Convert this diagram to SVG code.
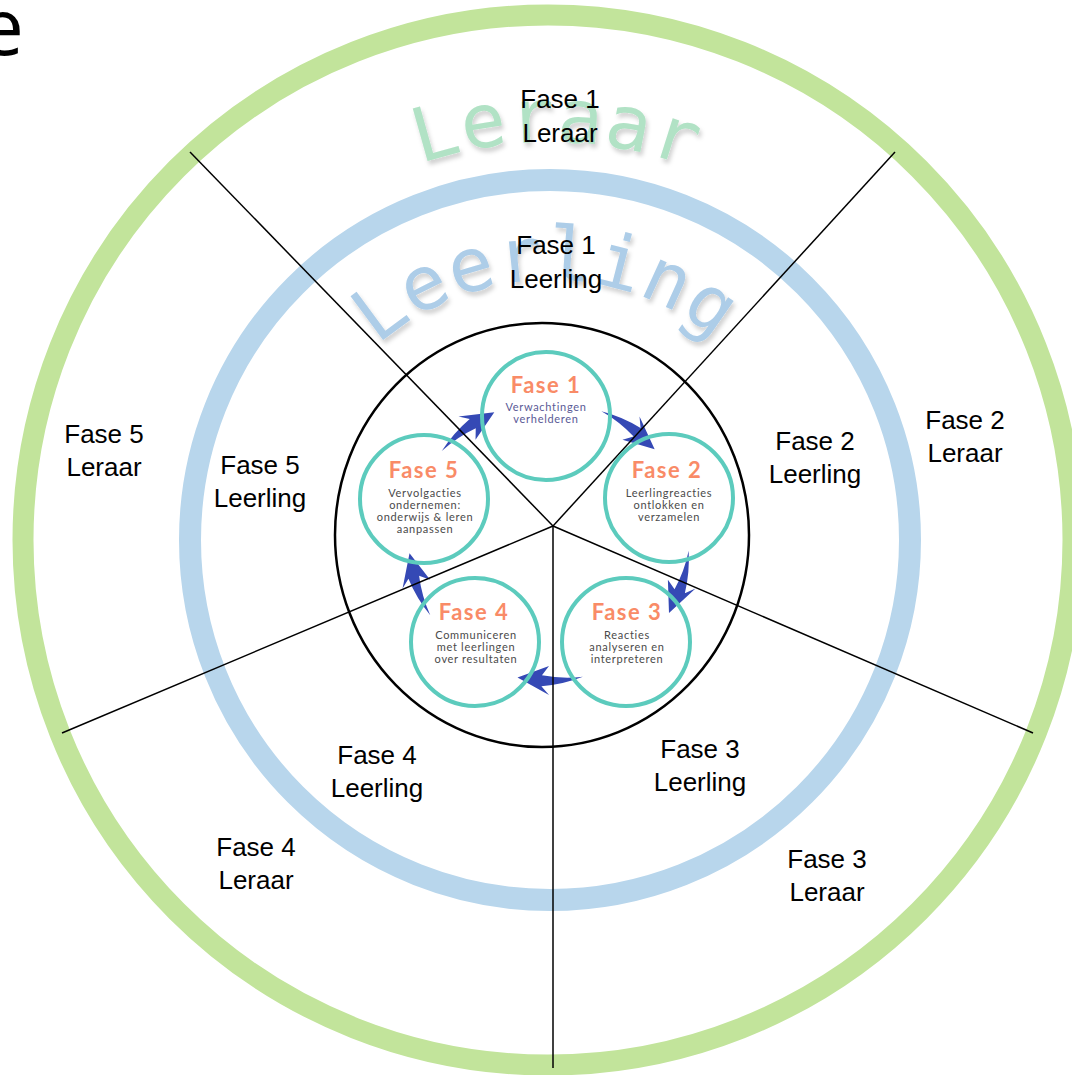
<svg xmlns="http://www.w3.org/2000/svg" width="1072" height="1075" viewBox="0 0 1072 1075">
<style>
.lbl{font-family:"Liberation Sans",Arial,sans-serif;font-size:26px;fill:#000;text-anchor:middle}
.ttl{font-family:Lato,"Open Sans",sans-serif;font-weight:700;font-size:22px;letter-spacing:1.5px;fill:#f98b67;text-anchor:middle}
.sub{font-family:Lato,"Open Sans",sans-serif;font-size:11px;letter-spacing:0.7px;fill:#4a4a4a;text-anchor:middle}
.arc{font-family:"DejaVu Sans Mono",monospace;font-size:75px;letter-spacing:1px}
.ring{fill:none;stroke:#5ccbbd;stroke-width:4}
.arrow{fill:#3549b5}
.div{stroke:#000;stroke-width:1.5;fill:none}
</style>
<defs>
<filter id="sh" x="-10%" y="-10%" width="130%" height="140%">
<feDropShadow dx="2" dy="4" stdDeviation="2" flood-color="#000" flood-opacity="0.18"/>
</filter>
<path id="arcLeraar" d="M 152 540 A 398 398 0 0 1 948 540"/>
<path id="arcLeerling" d="M 290 540 A 260 260 0 0 1 810 540"/>
<path id="arw" d="M -31.49 -136.41 A 144 144 0 0 1 10.15 -145.15 L 2.69 -153.98 L 33.87 -135.84 L 2.18 -124.98 L 9.38 -134.17 A 136 136 0 0 0 -31.49 -136.41 Z"/>
</defs>
<rect width="1072" height="1075" fill="#fff"/>
<text x="-20" y="55" font-family="'Open Sans','Liberation Sans',sans-serif" font-size="78" fill="#000">e</text>
<g id="rings">
<circle cx="548" cy="540" r="525" fill="none" stroke="#c2e49b" stroke-width="21"/>
<circle cx="550" cy="540" r="360" fill="none" stroke="#b8d6ec" stroke-width="22"/>
</g>
<g id="curved-labels" filter="url(#sh)">
<text class="arc" fill="#b1e2c5"><textPath href="#arcLeraar" startOffset="50.5%" text-anchor="middle">Leraar</textPath></text>
<text class="arc" fill="#adcde8"><textPath href="#arcLeerling" startOffset="49.5%" text-anchor="middle">Leerling</textPath></text>
</g>
<ellipse id="inner-circle" cx="542" cy="535" rx="207" ry="212" fill="none" stroke="#000" stroke-width="2.5"/>
<g id="arrows" class="arrow">
<use href="#arw" transform="translate(549 541) rotate(35)"/>
<use href="#arw" transform="translate(549 541) rotate(107)"/>
<use href="#arw" transform="translate(549 541) rotate(179)"/>
<use href="#arw" transform="translate(549 541) rotate(251)"/>
<use href="#arw" transform="translate(549 541) rotate(323)"/>
</g>
<g id="connectors" class="div">
<line x1="190" y1="152" x2="553" y2="526"/>
<line x1="895" y1="152" x2="553" y2="526"/>
<line x1="62" y1="733" x2="553" y2="526"/>
<line x1="1033" y1="733" x2="553" y2="526"/>
<line x1="553" y1="526" x2="553" y2="1068"/>
</g>
<g id="fase1">
<circle class="ring" cx="546" cy="416" r="64"/>
<text class="ttl" x="546" y="393">Fase 1</text>
<text class="sub" x="546" y="411" style="fill:#5a5a96">Verwachtingen</text>
<text class="sub" x="546" y="423" style="fill:#5a5a96">verhelderen</text>
</g>
<g id="fase2">
<circle class="ring" cx="669" cy="498" r="64"/>
<text class="ttl" x="667" y="478">Fase 2</text>
<text class="sub" x="669" y="497">Leerlingreacties</text>
<text class="sub" x="669" y="509">ontlokken en</text>
<text class="sub" x="669" y="521">verzamelen</text>
</g>
<g id="fase3">
<circle class="ring" cx="626" cy="642" r="64"/>
<text class="ttl" x="627" y="620">Fase 3</text>
<text class="sub" x="627" y="639">Reacties</text>
<text class="sub" x="627" y="651">analyseren en</text>
<text class="sub" x="627" y="663">interpreteren</text>
</g>
<g id="fase4">
<circle class="ring" cx="475" cy="642" r="64"/>
<text class="ttl" x="474" y="620">Fase 4</text>
<text class="sub" x="476" y="639">Communiceren</text>
<text class="sub" x="476" y="651">met leerlingen</text>
<text class="sub" x="476" y="663">over resultaten</text>
</g>
<g id="fase5">
<circle class="ring" cx="424" cy="499" r="64"/>
<text class="ttl" x="424" y="478">Fase 5</text>
<text class="sub" x="425" y="497">Vervolgacties</text>
<text class="sub" x="425" y="509">ondernemen:</text>
<text class="sub" x="425" y="521">onderwijs &amp; leren</text>
<text class="sub" x="425" y="533">aanpassen</text>
</g>
<g id="labels">
<g id="f1-leraar"><text class="lbl" x="560" y="108">Fase 1</text><text class="lbl" x="560" y="142">Leraar</text></g>
<g id="f1-leerling"><text class="lbl" x="556" y="254">Fase 1</text><text class="lbl" x="556" y="288">Leerling</text></g>
<g id="f2-leraar"><text class="lbl" x="965" y="429">Fase 2</text><text class="lbl" x="965" y="462">Leraar</text></g>
<g id="f2-leerling"><text class="lbl" x="815" y="450">Fase 2</text><text class="lbl" x="815" y="483">Leerling</text></g>
<g id="f3-leerling"><text class="lbl" x="700" y="758">Fase 3</text><text class="lbl" x="700" y="791">Leerling</text></g>
<g id="f3-leraar"><text class="lbl" x="827" y="868">Fase 3</text><text class="lbl" x="827" y="901">Leraar</text></g>
<g id="f4-leerling"><text class="lbl" x="377" y="764">Fase 4</text><text class="lbl" x="377" y="797">Leerling</text></g>
<g id="f4-leraar"><text class="lbl" x="256" y="856">Fase 4</text><text class="lbl" x="256" y="889">Leraar</text></g>
<g id="f5-leerling"><text class="lbl" x="260" y="474">Fase 5</text><text class="lbl" x="260" y="507">Leerling</text></g>
<g id="f5-leraar"><text class="lbl" x="104" y="443">Fase 5</text><text class="lbl" x="104" y="476">Leraar</text></g>
</g>
</svg>
